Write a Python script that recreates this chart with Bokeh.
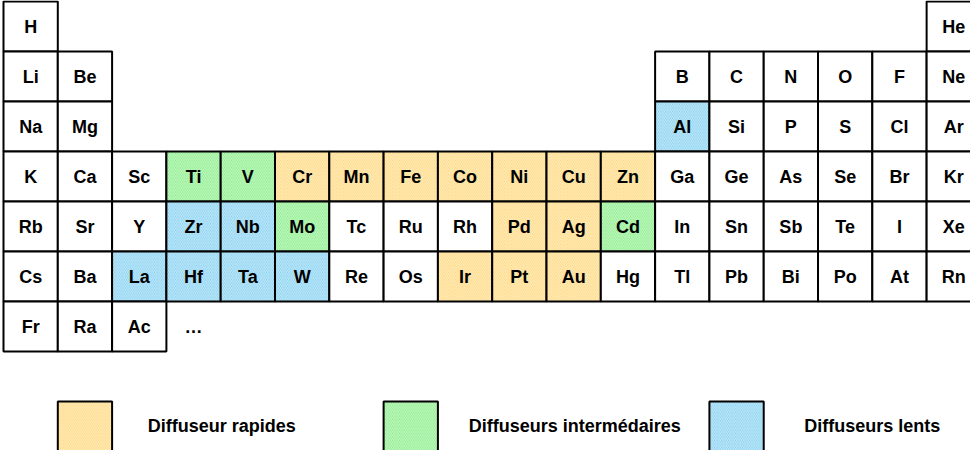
from bokeh.plotting import figure
from bokeh.models import Range1d, ColumnDataSource
from bokeh.embed import file_html
from bokeh.resources import INLINE
from bokeh.core.properties import value

# ---- data ----
period1 = ["H"] + [""] * 16 + ["He"]
period2 = ["Li", "Be"] + [""] * 10 + ["B", "C", "N", "O", "F", "Ne"]
period3 = ["Na", "Mg"] + [""] * 10 + ["Al", "Si", "P", "S", "Cl", "Ar"]
period4 = ["K", "Ca", "Sc", "Ti", "V", "Cr", "Mn", "Fe", "Co", "Ni", "Cu", "Zn",
           "Ga", "Ge", "As", "Se", "Br", "Kr"]
period5 = ["Rb", "Sr", "Y", "Zr", "Nb", "Mo", "Tc", "Ru", "Rh", "Pd", "Ag", "Cd",
           "In", "Sn", "Sb", "Te", "I", "Xe"]
period6 = ["Cs", "Ba", "La", "Hf", "Ta", "W", "Re", "Os", "Ir", "Pt", "Au", "Hg",
           "Tl", "Pb", "Bi", "Po", "At", "Rn"]
period7 = ["Fr", "Ra", "Ac"]
continuation = "…"

fast = ["Cr", "Mn", "Fe", "Co", "Ni", "Cu", "Zn", "Pd", "Ag", "Ir", "Pt", "Au"]
intermediate = ["Ti", "V", "Mo", "Cd"]
slow = ["Al", "Zr", "Nb", "La", "Hf", "Ta", "W"]

legend_labels = ["Diffuseur rapides", "Diffuseurs intermédaires", "Diffuseurs lents"]

# ---- styles ----
colors = {"fast": "#FFD470", "intermediate": "#7CEC7C", "slow": "#78CCF0", "none": "#FFFFFF"}
legend_box_cols = [1, 7, 13]
legend_text_x = [4.02, 10.52, 16.0]

periods = [period1, period2, period3, period4, period5, period6, period7]

xs_l, xs_r, ys_t, ys_b, fills, hatches, labels, cx, cy = [], [], [], [], [], [], [], [], []
for r, row in enumerate(periods):
    for c, sym in enumerate(row):
        if not sym:
            continue
        if sym in fast:
            cat = "fast"
        elif sym in intermediate:
            cat = "intermediate"
        elif sym in slow:
            cat = "slow"
        else:
            cat = "none"
        xs_l.append(c); xs_r.append(c + 1)
        ys_t.append(r); ys_b.append(r + 1)
        fills.append(colors[cat])
        hatches.append("\\" if cat != "none" else " ")
        labels.append(sym)
        cx.append(c + 0.5); cy.append(r + 0.5)

src = ColumnDataSource(dict(left=xs_l, right=xs_r, top=ys_t, bottom=ys_b,
                            fill=fills, hatch=hatches, label=labels, x=cx, y=cy))

p = figure(width=970, height=450, output_backend="svg", toolbar_location=None,
           x_range=Range1d(-0.0552, 17.808), y_range=Range1d(8.98, -0.02),
           min_border=0, outline_line_color=None)
p.axis.visible = False
p.grid.visible = False
p.background_fill_color = "white"
p.border_fill_color = "white"

p.quad(left="left", right="right", top="top", bottom="bottom", source=src,
       fill_color="fill", hatch_pattern="hatch", hatch_color="white",
       hatch_scale=3.5, hatch_weight=1.0, hatch_alpha=0.6,
       line_color="black", line_width=2)

p.text(x="x", y="y", text="label", source=src, text_align="center",
       text_baseline="middle", text_font=value("Liberation Sans"),
       text_font_style="bold", text_font_size="18px", text_color="black")

# continuation marker after Ac
p.text(x=[3.5], y=[6.5], text=[continuation], text_align="center",
       text_baseline="middle", text_font=value("Liberation Sans"),
       text_font_style="bold", text_font_size="18px", text_color="black")

# legend
leg_cats = ["fast", "intermediate", "slow"]
lsrc = ColumnDataSource(dict(left=legend_box_cols,
                             right=[c + 1 for c in legend_box_cols],
                             top=[8] * 3, bottom=[9.2] * 3,
                             fill=[colors[k] for k in leg_cats],
                             tx=legend_text_x, ty=[8.48] * 3, label=legend_labels))
p.quad(left="left", right="right", top="top", bottom="bottom", source=lsrc,
       fill_color="fill", hatch_pattern="\\", hatch_color="white",
       hatch_scale=3.5, hatch_weight=1.0, hatch_alpha=0.6,
       line_color="black", line_width=2)
p.text(x="tx", y="ty", text="label", source=lsrc, text_align="center",
       text_baseline="middle", text_font=value("Liberation Sans"),
       text_font_style="bold", text_font_size="18px", text_color="black")

open("out.html", "w").write(file_html(p, INLINE))
